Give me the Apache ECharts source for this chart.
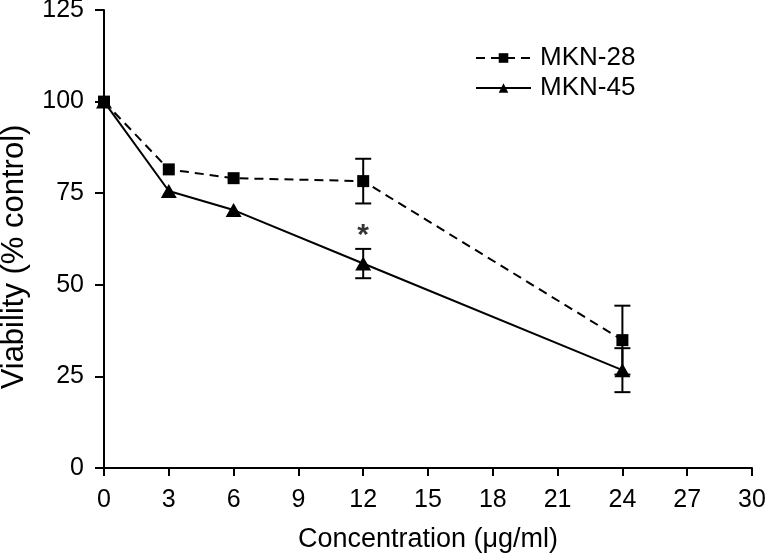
<!DOCTYPE html>
<html>
<head>
<meta charset="utf-8">
<script src="https://cdn.jsdelivr.net/npm/echarts@6/dist/echarts.min.js"></script>
<style>html,body{margin:0;padding:0;background:#fff}#c{width:768px;height:556px}</style>
</head>
<body>
<div id="c"></div>
<script>
const conc = [0, 3, 6, 12, 24];
const mkn28 = [100, 81.5, 79.1, 78.3, 34.9];
const mkn28Err = [0, 0, 0, 6.1, 9.4];
const mkn45 = [100, 75.6, 70.4, 55.8, 26.7];
const mkn45Err = [0, 0, 0, 4.0, 6.0];
const sigX = [12];
const sigY = [65];
const xTicks = [0, 3, 6, 9, 12, 15, 18, 21, 24, 27, 30];
const yTicks = [0, 25, 50, 75, 100, 125];

const font = 'Liberation Sans, Arial, sans-serif';
const fs = 25;
const chart = echarts.init(document.getElementById('c'));

function errData(vals, errs) {
  return conc.map((x, i) => [x, vals[i] - errs[i], vals[i] + errs[i], errs[i]]);
}
function errSeries(name, vals, errs) {
  return {
    type: 'custom', name: name + ' err', z: 1, silent: true,
    renderItem: function (params, api) {
      if (api.value(3) <= 0) return null;
      const x = api.value(0);
      const lo = api.coord([x, api.value(1)]);
      const hi = api.coord([x, api.value(2)]);
      const w = 8;
      const style = { stroke: '#000', lineWidth: 2, fill: null };
      return {
        type: 'group', children: [
          { type: 'line', shape: { x1: lo[0], y1: lo[1], x2: hi[0], y2: hi[1] }, style: style },
          { type: 'line', shape: { x1: lo[0] - w, y1: lo[1], x2: lo[0] + w, y2: lo[1] }, style: style },
          { type: 'line', shape: { x1: hi[0] - w, y1: hi[1], x2: hi[0] + w, y2: hi[1] }, style: style }
        ]
      };
    },
    encode: { x: 0, y: [1, 2] },
    data: errData(vals, errs)
  };
}

chart.setOption({
  animation: false,
  backgroundColor: '#fff',
  textStyle: { fontFamily: font, color: '#000' },
  grid: { left: 104, right: 16, top: 10, bottom: 88, containLabel: false, outerBoundsMode: 'none' },
  legend: {
    data: ['MKN-28', 'MKN-45'],
    orient: 'vertical', left: 470, top: 40,
    itemWidth: 55, itemHeight: 12, itemGap: 4,
    textStyle: { fontFamily: font, fontSize: 26, color: '#000', padding: [0, 0, 0, 4] }
  },
  xAxis: {
    type: 'value', min: 0, max: 30, interval: 3,
    axisLine: { lineStyle: { color: '#000', width: 2 } },
    axisTick: { show: true, length: 8, lineStyle: { color: '#000', width: 2 } },
    axisLabel: { fontFamily: font, fontSize: fs, color: '#000', margin: 20,
      formatter: v => xTicks.includes(v) ? String(v) : '' },
    splitLine: { show: false },
    name: 'Concentration (\u03bcg/ml)', nameLocation: 'middle', nameGap: 58,
    nameTextStyle: { fontFamily: font, fontSize: 27, color: '#000' }
  },
  yAxis: {
    type: 'value', min: 0, max: 125, interval: 25,
    axisLine: { show: true, lineStyle: { color: '#000', width: 2 } },
    axisTick: { show: true, length: 9, lineStyle: { color: '#000', width: 2 } },
    axisLabel: { fontFamily: font, fontSize: fs, color: '#000', margin: 20,
      formatter: v => yTicks.includes(v) ? String(v) : '' },
    splitLine: { show: false },
    name: 'Viability (% control)', nameLocation: 'middle', nameGap: 74,
    nameTextStyle: { fontFamily: font, fontSize: 31, color: '#000', padding: [0, 36, 0, 0] }
  },
  series: [
    errSeries('MKN-28', mkn28, mkn28Err),
    errSeries('MKN-45', mkn45, mkn45Err),
    {
      name: 'MKN-28', type: 'line', z: 3,
      data: conc.map((x, i) => [x, mkn28[i]]),
      symbol: 'rect', symbolSize: 12,
      itemStyle: { color: '#000' },
      lineStyle: { color: '#000', width: 2, type: [9, 6] }
    },
    {
      name: 'MKN-45', type: 'line', z: 3,
      data: conc.map((x, i) => [x, mkn45[i]]),
      symbol: 'triangle', symbolSize: [16, 14],
      itemStyle: { color: '#000' },
      lineStyle: { color: '#000', width: 2 }
    },
    {
      name: 'sig', type: 'scatter', symbolSize: 0, silent: true,
      data: sigX.map((x, i) => [x, sigY[i]]),
      label: { show: true, formatter: '*', position: 'inside', offset: [0, 6],
        fontFamily: font, fontSize: 30, fontWeight: 'bold', color: '#000' }
    }
  ]
});
</script>
</body>
</html>
